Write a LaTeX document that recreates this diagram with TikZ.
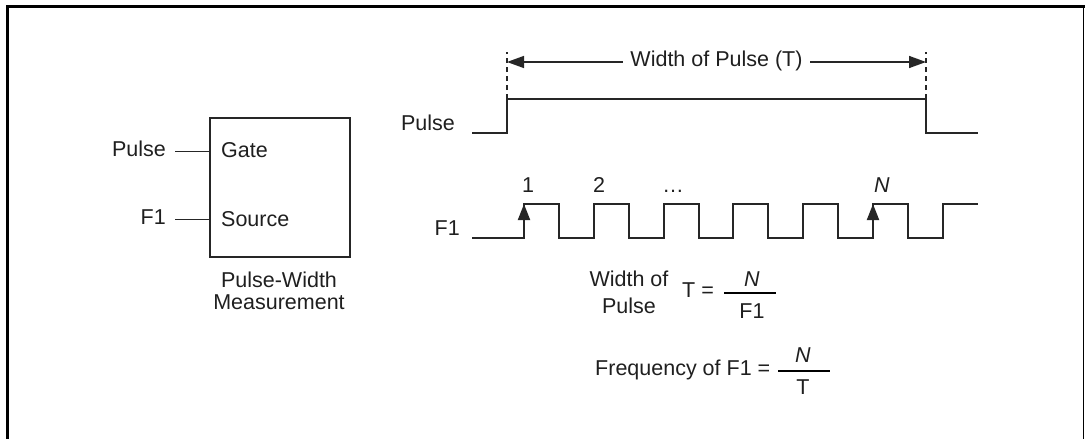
\documentclass[tikz,border=0pt]{standalone}
\usepackage{fontspec}
\setmainfont{Liberation Sans}
\usetikzlibrary{arrows.meta}
\begin{document}
\begin{tikzpicture}[x=1pt,y=-1pt,
    every node/.style={inner sep=0pt, text height=9pt, text depth=0pt,
      font=\fontsize{21.5}{22}\selectfont, text=black!88},
    wave/.style={line width=1.9pt, draw=black!85},
    guide/.style={line width=1.3pt, draw=black!85, dash pattern=on 5pt off 4pt},
    countarrow/.style={-{Triangle[length=16pt,width=12pt]}, line width=1.9pt, draw=black!85}]
    \useasboundingbox (0,0) rectangle (1085,439);
    % frame
    \draw[line width=3pt] (7,439) -- (7,6) -- (1085,6);
    \draw[line width=1.2pt] (1083.5,6) -- (1083.5,439);
    % counter block
    \node[draw, wave, minimum width=140pt, minimum height=139pt, anchor=north west] (meas) at (209,117) {};
    \node[anchor=base west] (gate) at (221,157) {Gate};
    \node[anchor=base west] (source) at (221,226) {Source};
    \node[anchor=base east] (pulsein) at (166,156) {Pulse};
    \node[anchor=base east] (f1in) at (166,224) {F1};
    \draw[wave, line width=1.4pt] ([xshift=9pt]pulsein.east) -- (meas.west |- pulsein.east);
    \draw[wave, line width=1.4pt] ([xshift=9pt]f1in.east) -- (meas.west |- f1in.east);
    \node[anchor=base] (measlbl) at (279,287) {Pulse-Width};
    \node[anchor=base] (measlbl2) at (279,309) {Measurement};
    % pulse waveform
    \coordinate (pstart) at (472,133);
    \coordinate (prise) at (507,99);
    \coordinate (pfall) at (926,99);
    \coordinate (pend) at (978,133);
    \draw[wave] (pstart) -| (prise) -- (pfall) |- (pend);
    \node[anchor=base east] (pulselbl) at (455,130) {Pulse};
    % width of pulse
    \coordinate (gl) at (507,52);
    \coordinate (gr) at (926,52);
    \draw[guide] (prise) -- (gl);
    \draw[guide] (pfall) -- (gr);
    \draw[line width=1.5pt, draw=black!85, {Triangle[length=17pt,width=12pt]}-{Triangle[length=17pt,width=12pt]}]
        (507,62) -- node[fill=white, inner xsep=7pt, inner ysep=3pt] (widthlbl) {Width of Pulse (T)} (926,62);
    % F1 waveform
    \draw[wave] (472,238) foreach \i in {0,...,5} {
        -| ({524+69.8*\i},204) -| ({559+69.8*\i},238) } -| (942.8,204) -- (978,204);
    \node[anchor=base east] (f1lbl) at (460,235) {F1};
    \coordinate (edge1) at (524,204);
    \coordinate (edgeN) at (873,204);
    \draw[countarrow] (edge1 |- 0,238) -- (edge1);
    \draw[countarrow] (edgeN |- 0,238) -- (edgeN);
    \node[anchor=base] (cnt1) at (528,192) {1};
    \node[anchor=base] (cnt2) at (599,192) {2};
    \node[anchor=base] (cntdots) at (673,192) {…};
    \node[anchor=base] (cntN) at (882,192) {\textit{N}};
    % formulas
    \node[anchor=base] (wlbl1) at (629,286) {Width of};
    \node[anchor=base] (wlbl2) at (629,313) {Pulse};
    \node[anchor=base west] (teq) at (682,297) {T =};
    \node[anchor=base] (num1) at (752,286) {\textit{N}};
    \node[anchor=base] (den1) at (752,318) {F1};
    \draw[line width=1.4pt] (724,293) -- (776,293);
    \node[anchor=base west] (freq) at (595,375) {Frequency of F1 =};
    \node[anchor=base] (num2) at (803,362) {\textit{N}};
    \node[anchor=base] (den2) at (803,394) {T};
    \draw[line width=1.4pt] (778,371) -- (830,371);
\end{tikzpicture}
\end{document}
